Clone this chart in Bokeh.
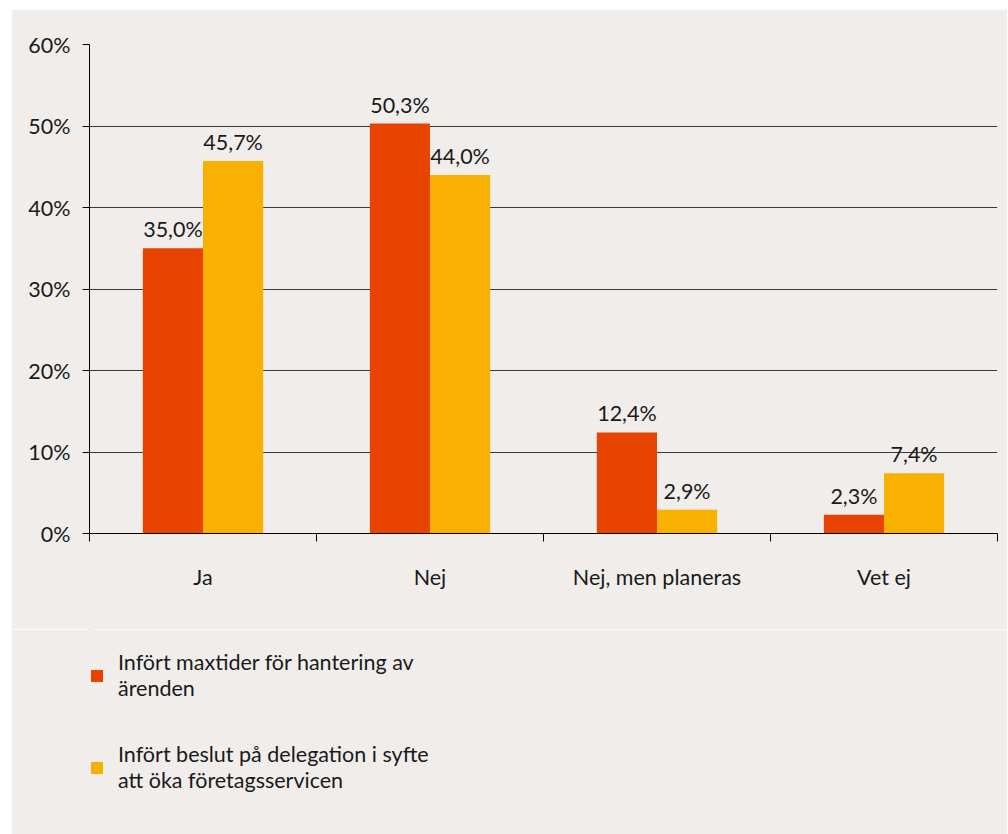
from bokeh.plotting import figure
from bokeh.models import (ColumnDataSource, Range1d, FixedTicker, PrintfTickFormatter,
                          LabelSet, Legend, LegendItem)
from bokeh.layouts import column
from bokeh.core.properties import value
from bokeh.embed import file_html
from bokeh.resources import INLINE

categories = ["Ja", "Nej", "Nej, men planeras", "Vet ej"]
series_names = ["Infört maxtider för hantering av\närenden",
                "Infört beslut på delegation i syfte\natt öka företagsservicen"]
maxtider = [35.0, 50.3, 12.4, 2.3]
delegation = [45.7, 44.0, 2.9, 7.4]
y_ticks = [0, 10, 20, 30, 40, 50, 60]

RED = "#E84300"
YELLOW = "#F8B100"
BG = "#F0EDEA"
FONT = "Lato"
FS = "21.5px"
TXT = "#1a1a1a"

def fmt(v):
    return f"{v:.1f}".replace(".", ",") + "%"

n = len(categories)
centers = [i + 0.5 for i in range(n)]
bw = 0.265
off = bw / 2

src = ColumnDataSource(dict(
    xa=[c - off for c in centers], xb=[c + off for c in centers],
    a=maxtider, b=delegation,
    la=[fmt(v) for v in maxtider], lb=[fmt(v) for v in delegation],
))

p = figure(x_range=Range1d(0, n), y_range=Range1d(0, 60),
           width=996, height=620, margin=(9, 1, 0, 11),
           output_backend="svg", toolbar_location=None,
           min_border_left=78, min_border_right=10, min_border_top=35, min_border_bottom=96)
p.background_fill_color = BG
p.border_fill_color = BG
p.outline_line_color = None

r1 = p.vbar(x="xa", top="a", width=bw, source=src, fill_color=RED, line_color=None)
r2 = p.vbar(x="xb", top="b", width=bw, source=src, fill_color=YELLOW, line_color=None)

for xcol, ycol, tcol in (("xa", "a", "la"), ("xb", "b", "lb")):
    p.add_layout(LabelSet(x=xcol, y=ycol, text=tcol, source=src, y_offset=6,
                          text_align="center", text_baseline="bottom",
                          text_font=value(FONT), text_font_size=FS, text_color=TXT))

# y axis
ya = p.yaxis[0]
ya.ticker = FixedTicker(ticks=y_ticks)
ya.formatter = PrintfTickFormatter(format="%d%%")
ya.major_label_text_font = FONT
ya.major_label_text_font_size = FS
ya.major_label_text_color = TXT
ya.major_tick_in = 0
ya.major_tick_out = 7
ya.minor_tick_line_color = None
ya.axis_line_color = "black"
ya.major_tick_line_color = "black"
ya.major_label_standoff = 12

p.ygrid.grid_line_color = "#3a3a3a"
p.ygrid.ticker = FixedTicker(ticks=y_ticks)
p.xgrid.grid_line_color = None

# x axis: labels at category centres, tick marks at category boundaries
xa = p.xaxis[0]
xa.ticker = FixedTicker(ticks=centers, minor_ticks=list(range(n + 1)))
xa.major_label_overrides = {c: cat for c, cat in zip(centers, categories)}
xa.major_tick_line_color = None
xa.major_tick_in = 0
xa.major_tick_out = 0
xa.minor_tick_in = 0
xa.minor_tick_out = 8
xa.minor_tick_line_color = "black"
xa.axis_line_color = "black"
xa.major_label_text_font = FONT
xa.major_label_text_font_size = FS
xa.major_label_text_color = TXT
xa.major_label_standoff = 22

# legend panel (same series source; this panel's ranges show none of the bars)
lg = figure(x_range=Range1d(n + 1, n + 2), y_range=Range1d(-2, -1),
            width=996, height=205, margin=(0, 1, 0, 11),
            output_backend="svg", toolbar_location=None,
            x_axis_location=None, y_axis_location=None,
            min_border_left=0, min_border_right=0, min_border_top=0, min_border_bottom=0)
lg.background_fill_color = BG
lg.border_fill_color = BG
lg.outline_line_color = None
lg.grid.grid_line_color = None
k1 = lg.vbar(x="xa", top="a", width=bw, source=src, fill_color=RED, line_color=None)
k2 = lg.vbar(x="xb", top="b", width=bw, source=src, fill_color=YELLOW, line_color=None)

legend = Legend(items=[LegendItem(label=series_names[0], renderers=[k1]),
                       LegendItem(label=series_names[1], renderers=[k2])],
                location=(0, 41), orientation="vertical",
                background_fill_alpha=0, border_line_color=None,
                label_text_font=FONT, label_text_font_size=FS, label_text_color=TXT,
                glyph_width=15, glyph_height=15, label_standoff=14,
                spacing=40, padding=0, margin=0, label_text_line_height=1.6)
lg.add_layout(legend)

layout = column(p, lg, spacing=0)
open("out.html", "w").write(file_html(layout, INLINE))
